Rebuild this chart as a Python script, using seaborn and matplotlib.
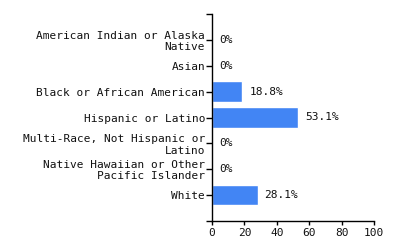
import matplotlib
matplotlib.use("Agg")
import matplotlib.pyplot as plt
import seaborn as sns
import pandas as pd

categories = ["American Indian or Alaska\nNative", "Asian", "Black or African American",
              "Hispanic or Latino", "Multi-Race, Not Hispanic or\nLatino",
              "Native Hawaiian or Other\nPacific Islander", "White"]
values = [0, 0, 18.8, 53.1, 0, 0, 28.1]
value_labels = ["0%", "0%", "18.8%", "53.1%", "0%", "0%", "28.1%"]
x_ticks = [0, 20, 40, 60, 80, 100]

sns.set_style("white")
plt.rcParams['font.family'] = ['DejaVu Sans Mono']

df = pd.DataFrame({"cat": categories, "val": values})

fig = plt.figure(figsize=(4, 2.5), dpi=100)
ax = fig.add_axes([0.53, 0.116, 0.405, 0.828])
sns.barplot(data=df, x="val", y="cat", color="#4285f4", saturation=1, width=0.8, ax=ax)

ax.set_xlim(0, 100)
ax.set_ylim(7, -1)
ax.set_xticks(x_ticks)
ax.set_xticklabels([str(t) for t in x_ticks], fontsize=8, color="#111111")
ax.set_yticks(range(len(categories)))
ax.set_yticklabels(categories, fontsize=8, color="#111111", linespacing=1.15)
ax.set_yticks([-1, 7], minor=True)
ax.tick_params(axis="y", which="both", left=True, length=4, width=1, color="black", pad=1)
ax.tick_params(axis="x", bottom=True, length=3, width=1, color="black", pad=2)
ax.set_xlabel("")
ax.set_ylabel("")
for s in ["top", "right"]:
    ax.spines[s].set_visible(False)
for s in ["left", "bottom"]:
    ax.spines[s].set_color("black")
    ax.spines[s].set_linewidth(1)

for i, (v, lab) in enumerate(zip(values, value_labels)):
    ax.annotate(lab, xy=(v, i), xytext=(5, 0), textcoords="offset points",
                va="center", ha="left", fontsize=8, color="#111111")

fig.savefig("out.png", dpi=100)
